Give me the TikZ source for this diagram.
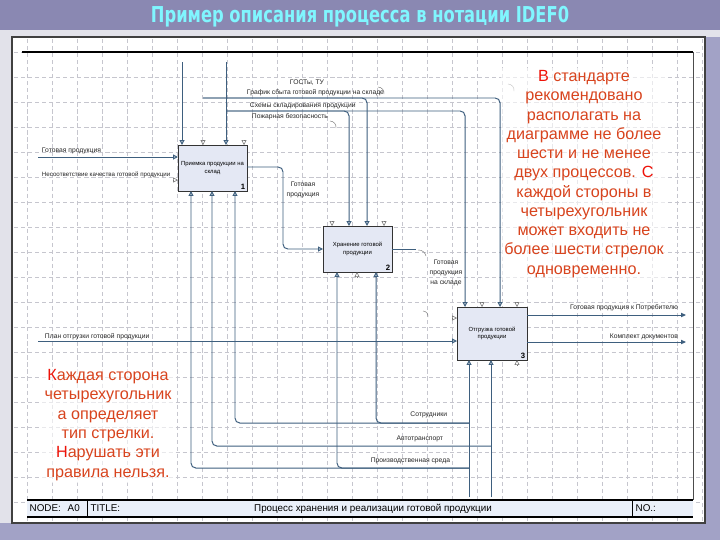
\documentclass[tikz,border=0pt]{standalone}
\usepackage{fontspec}
\setmainfont{Liberation Sans}
\newfontfamily\titlefont{DejaVu Sans}
\usepackage{graphicx}
\usetikzlibrary{arrows.meta,calc}
\definecolor{slidebg}{HTML}{E2E2EA}
\definecolor{bandcol}{HTML}{8A88B2}
\definecolor{titlecol}{HTML}{80F6FF}
\definecolor{edgecol}{HTML}{A2A2C6}
\definecolor{gridcol}{HTML}{C6C6CE}
\definecolor{linecol}{HTML}{3E5F7E}
\definecolor{procfill}{HTML}{E4E8F4}
\definecolor{blockfill}{HTML}{EAF0FA}
\definecolor{notecol}{HTML}{D8441E}
\definecolor{notedark}{HTML}{EE1208}
\newcommand{\gp}{готовой продукции}
\newcommand{\rl}[1]{\textcolor{notedark}{#1}}
\tikzset{
  proc/.style={draw=black!80, line width=0.7pt, fill=procfill, align=center,
    font=\fontsize{4.2}{5.4}\selectfont, inner sep=0pt},
  num/.style={font=\fontsize{5.5}{6}\selectfont\bfseries, inner sep=1.5pt},
  conn/.style={draw=linecol, line width=0.7pt, rounded corners=1.2mm},
  ctl/.style={conn, -{Triangle[open, length=3.5pt, width=3.5pt]}},
  stub/.style={draw=black!55, line width=0.4pt, -{Triangle[open, length=3.5pt, width=3.5pt]}},
  outp/.style={conn, -{Triangle[length=3.5pt, width=3pt]}},
  lbl/.style={font=\fontsize{4.8}{6}\selectfont, inner sep=0.5pt, text=black!85},
  squig/.style={draw=black!55, line width=0.3pt},
  note/.style={fill=white, fill opacity=0.6, text opacity=1, text=notecol,
    align=center, inner sep=2pt, font=\fontsize{11.5}{13.7}\selectfont},
  blk/.style={font=\fontsize{7}{8}\selectfont, inner sep=1pt},
  gridline/.style={draw=gridcol, line width=0.35pt, dash pattern=on 3pt off 2pt}
}

\begin{document}
\begin{tikzpicture}[x=0.025cm, y=-0.025cm]
  \useasboundingbox (0,0) rectangle (720,540);
  \fill[slidebg] (0,0) rectangle (720,540);
  \fill[edgecol] (0,523) rectangle (720,540);
  \fill[edgecol] (705,37) rectangle (720,540);
  \fill[bandcol] (0,0) rectangle (720,30);
  \node[inner sep=0pt, text=titlecol] (ttl) at (360,17)
    {\resizebox*{10.45cm}{0.52cm}{\titlefont\bfseries Пример описания процесса в нотации IDEF0}};

  \filldraw[fill=white, draw=black!75, line width=1.2pt] (12,37) rectangle (705,523);
  \foreach \x in {27,52,...,702} \draw[gridline] (\x,39) -- (\x,521);
  \foreach \y in {52,77,...,520} \draw[gridline] (14,\y) -- (703,\y);
  \draw[black, line width=1pt] (22,52) -- (693,52);
  \draw[black!70, line width=0.6pt] (693,52) -- (693,500);

  \fill[blockfill] (27,500) rectangle (693,517);
  \draw[black, line width=0.9pt] (27,500) -- (693,500) (27,517) -- (693,517);
  \draw[black, line width=0.5pt] (87,500) -- (87,517) (632,500) -- (632,517);
  \node[blk, anchor=west] (nd) at (28,508.5) {NODE:};
  \node[blk, anchor=west] (a0) at (66,508.5) {A0};
  \node[blk, anchor=west] (tt) at (89,508.5) {TITLE:};
  \node[blk] (tn) at (373,508.5) {Процесс хранения и реализации \gp};
  \node[blk, anchor=west] (no) at (634,508.5) {NO.:};

  \node[proc, minimum width=1.725cm, minimum height=1.15cm] (b1) at (212.5,168) {Приемка продукции на\\склад};
  \node[proc, minimum width=1.725cm, minimum height=1.15cm] (b2) at (357.5,249) {Хранение готовой\\продукции};
  \node[proc, minimum width=1.75cm, minimum height=1.325cm] (b3) at (492,333.5) {Отгрузка готовой\\продукции};
  \node[num, anchor=south east] (n1) at (b1.south east) {1};
  \node[num, anchor=south east] (n2) at (b2.south east) {2};
  \node[num, anchor=south east] (n3) at (b3.south east) {3};

  \foreach \n/\x in {1/182,2/203,3/226,4/244} \coordinate (t1\n) at (\x,145);
  \foreach \n/\x in {1/191,2/212,3/235} \coordinate (u1\n) at (\x,191);
  \foreach \n/\x in {1/332,2/349,3/367,4/384} \coordinate (t2\n) at (\x,226);
  \foreach \n/\x in {1/337,2/357,3/376} \coordinate (u2\n) at (\x,272);
  \foreach \n/\x in {1/465,2/482,3/500,4/517} \coordinate (t3\n) at (\x,307);
  \foreach \n/\x in {1/469,2/491,3/517} \coordinate (u3\n) at (\x,360);
  \coordinate (l11) at (178,157); \coordinate (l12) at (178,180);
  \coordinate (l21) at (323,249); \coordinate (l31) at (457,318); \coordinate (l32) at (457,341);
  \coordinate (r1) at (247,167); \coordinate (r2) at (392,249);
  \coordinate (r31) at (527,315); \coordinate (r32) at (527,342);

  \coordinate (c1) at (182,62); \coordinate (c2) at (226,62); \coordinate (c3) at (203,98);
  \coordinate (j1) at (226,111);
  \coordinate (i1) at (38,157); \coordinate (i2) at (38,341);
  \coordinate (k1) at (283,249); \coordinate (s2) at (416,249);
  \coordinate (o1) at (686,315); \coordinate (o2) at (686,342);
  \coordinate (m1) at (469,497); \coordinate (m2) at (491,497);
  \coordinate (j3) at (469,423); \coordinate (j4) at (491,446); \coordinate (j5) at (469,468);

  \draw[ctl] (c1) -- (t11);
  \draw[ctl] (c2) -- (t13);
  \draw[ctl] (j1) -| (t22);
  \draw[ctl] (j1) -| (t31);
  \draw[ctl] (c3) -| (t23);
  \draw[ctl] (c3) -| (t33);
  \draw[ctl] (i1) -- (l11);
  \draw[ctl] (r1) -| (k1) -- (l21);
  \draw[conn] (r2) -- (s2);
  \draw[ctl] (i2) -- (l32);
  \draw[outp] (r31) -- (o1);
  \draw[outp] (r32) -- (o2);
  \draw[ctl] (m1) -- (u31);
  \draw[ctl] (m2) -- (u32);
  \draw[ctl] (j3) -| (u23);
  \draw[ctl] (j3) -| (u13);
  \draw[ctl] (j4) -| (u12);
  \draw[ctl] (j5) -| (u21);
  \draw[ctl] (j5) -| (u11);
  \foreach \p in {t12,t14,t21,t24,t32,t34} \draw[stub] ($(\p)+(0,-5)$) -- (\p);
  \foreach \p in {l12,l31} \draw[stub] ($(\p)+(-5,0)$) -- (\p);
  \foreach \p in {u22,u33} \draw[stub] ($(\p)+(0,5)$) -- (\p);

  \node[lbl] (gost) at (307,83) {ГОСТы, ТУ};
  \node[lbl, anchor=west] (graf) at (246,93) {График сбыта \gp\ на складе};
  \node[lbl, anchor=west] (shem) at (249,106) {Схемы складирования продукции};
  \node[lbl, anchor=west] (pozh) at (251,117) {Пожарная безопасность};
  \node[lbl, anchor=west] (gp1) at (41,151) {Готовая продукция};
  \node[lbl, anchor=west, font=\fontsize{4.4}{6}\selectfont] (nes) at (41,175) {Несоответствие качества \gp};
  \node[lbl, align=center, font=\fontsize{4.8}{7}\selectfont] (gp2) at (303,190) {Готовая\\продукция};
  \node[lbl, align=center, font=\fontsize{4.8}{7}\selectfont] (gp3) at (446,273) {Готовая\\продукция\\на складе};
  \node[lbl, anchor=west] (plan) at (44,337) {План отгрузки \gp};
  \node[lbl, anchor=east] (gpp) at (679,308) {Готовая продукция к Потребителю};
  \node[lbl, anchor=east] (kd) at (679,337) {Комплект документов};
  \node[lbl, anchor=east] (sotr) at (448,415) {Сотрудники};
  \node[lbl, anchor=east] (avto) at (444,439) {Автотранспорт};
  \node[lbl, anchor=east] (sreda) at (451,461) {Производственная среда};

  \coordinate (q1) at (378,87); \coordinate (q2) at (508,84); \coordinate (q3) at (330,121);
  \coordinate (q4) at (418,250); \coordinate (q5) at (423,311);
  \draw[squig] (q1) to[bend left=50] ++(6,7);
  \draw[squig] (q2) to[bend left=50] ++(6,7);
  \draw[squig] (q3) to[bend left=50] ++(6,7);
  \draw[squig] (q4) to[bend left=40] ++(8,6);
  \draw[squig] (q5) to[bend left=50] ++(5,6);

  \node[note] (rnote) at (584,174) {\rl{В} стандарте\\рекомендовано\\располагать на\\диаграмме не более\\шести и не менее\\двух процессов. \rl{С}\\каждой стороны в\\четырехугольник\\может входить не\\более шести стрелок\\одновременно.};
  \node[note] (lnote) at (108,425) {\rl{К}аждая сторона\\четырехугольник\\а определяет\\тип стрелки.\\\rl{Н}арушать эти\\правила нельзя.};
\end{tikzpicture}
\end{document}
